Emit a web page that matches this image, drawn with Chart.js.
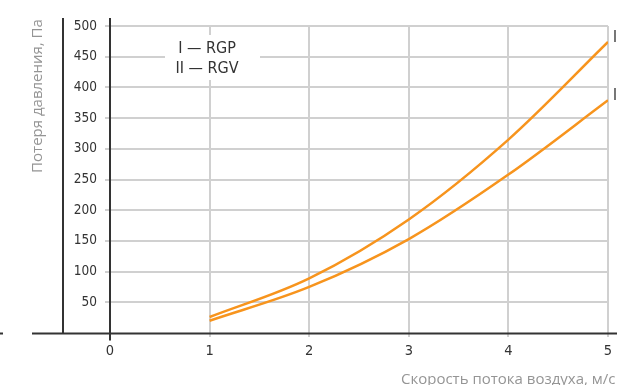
<!DOCTYPE html>
<html>
<head>
<meta charset="utf-8">
<script src="https://cdn.jsdelivr.net/npm/chart.js@4.4.0/dist/chart.umd.min.js"></script>
<style>
html, body { margin: 0; padding: 0; background: #fff; overflow: hidden; }
#wrap { width: 660px; height: 385px; }
</style>
</head>
<body>
<div id="wrap"><canvas id="chart1" width="660" height="385"></canvas></div>
<script>
const speeds = [1, 2, 3, 4, 5];
const lossRGP = [26, 89, 185, 315, 474];
const lossRGV = [20, 75, 153, 258, 379];
const seriesNames = ['I', 'II'];
const seriesLabels = ['I — RGP', 'II — RGV'];
const xTitle = 'Скорость потока воздуха, м/с';
const yTitle = 'Потеря давления, Па';

const orange = '#f7941d';
const gridGrey = '#d0d0d0';
const dark = '#333333';
const narrow = "'Liberation Sans Narrow', 'DejaVu Sans Condensed', sans-serif";

// axis lines, titles, legend box and end labels
const decor = {
    id: 'decor',
    beforeDatasetsDraw(chart) {
        const ctx = chart.ctx;
        ctx.save();
        ctx.fillStyle = '#fff';
        ctx.fillRect(165, 35, 95, 45);
        ctx.fillStyle = dark;
        ctx.font = '16px ' + narrow;
        ctx.textAlign = 'center';
        ctx.textBaseline = 'alphabetic';
        ctx.fillText(seriesLabels[0], 207, 53);
        ctx.fillText(seriesLabels[1], 207, 73);
        ctx.restore();
    },
    afterDraw(chart) {
        const {ctx, scales: {x, y}} = chart;
        const base = Math.round(y.getPixelForValue(0)) + 0.5;
        const x0 = Math.round(x.getPixelForValue(0));
        ctx.save();
        ctx.strokeStyle = dark;
        ctx.lineWidth = 2;
        ctx.beginPath();
        ctx.moveTo(32, base); ctx.lineTo(chart.width, base);
        ctx.moveTo(0, base); ctx.lineTo(3, base);
        ctx.moveTo(63, 18); ctx.lineTo(63, base);
        ctx.moveTo(x0, 18); ctx.lineTo(x0, base + 7);
        ctx.stroke();

        // series names at the right end of each curve
        ctx.fillStyle = dark;
        ctx.font = '15px ' + narrow;
        ctx.textAlign = 'left';
        ctx.textBaseline = 'middle';
        chart.data.datasets.forEach((ds, i) => {
            const last = ds.data[ds.data.length - 1];
            ctx.fillText(seriesNames[i], x.getPixelForValue(last.x) + 5, y.getPixelForValue(last.y) - 4);
        });

        ctx.fillStyle = '#959595';
        ctx.font = "15px 'Open Sans', sans-serif";
        ctx.textBaseline = 'alphabetic';
        ctx.fillText(xTitle, 401, 384);
        ctx.translate(42, 96);
        ctx.rotate(-Math.PI / 2);
        ctx.textAlign = 'center';
        ctx.fillText(yTitle, 0, 0);
        ctx.restore();
    }
};

new Chart('chart1', {
    type: 'line',
    data: {
        datasets: [{
            label: seriesLabels[0],
            data: speeds.map((v, i) => ({x: v, y: lossRGP[i]})),
            borderColor: orange,
            borderWidth: 2.5,
            pointRadius: 0,
            fill: false,
            cubicInterpolationMode: 'monotone'
        }, {
            label: seriesLabels[1],
            data: speeds.map((v, i) => ({x: v, y: lossRGV[i]})),
            borderColor: orange,
            borderWidth: 2.5,
            pointRadius: 0,
            fill: false,
            cubicInterpolationMode: 'monotone'
        }]
    },
    options: {
        responsive: false,
        animation: false,
        layout: {
            padding: {left: 0, top: 26, right: 52, bottom: 0}
        },
        plugins: {
            legend: {display: false},
            tooltip: {enabled: false}
        },
        scales: {
            x: {
                type: 'linear',
                min: 0,
                max: 5,
                afterFit: s => { s.height = 52; },
                border: {display: false},
                grid: {
                    color: ctx => ctx.tick && ctx.tick.value === 0 ? 'rgba(0,0,0,0)' : gridGrey,
                    lineWidth: 2,
                    tickLength: 4
                },
                ticks: {
                    stepSize: 1,
                    padding: 6,
                    color: dark,
                    font: {family: narrow, size: 14.5}
                }
            },
            y: {
                min: 0,
                max: 500,
                afterFit: s => { s.width = 110; },
                border: {display: false},
                grid: {
                    color: ctx => ctx.tick && ctx.tick.value === 0 ? 'rgba(0,0,0,0)' : gridGrey,
                    lineWidth: 2,
                    tickLength: 5
                },
                ticks: {
                    stepSize: 50,
                    padding: 8,
                    color: dark,
                    font: {family: narrow, size: 13.5},
                    callback: v => v === 0 ? '' : v
                }
            }
        }
    },
    plugins: [decor]
});
</script>
</body>
</html>
